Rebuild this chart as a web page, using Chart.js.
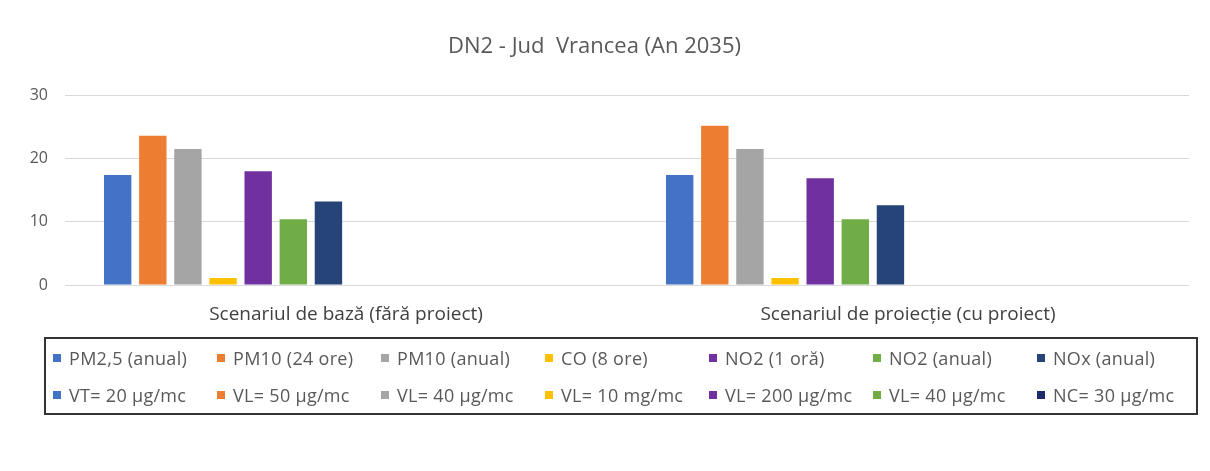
<!DOCTYPE html>
<html>
<head>
<meta charset="utf-8">
<script src="https://cdn.jsdelivr.net/npm/chart.js@4.4.1/dist/chart.umd.min.js"></script>
<style>
  body { margin: 0; background: #fff; }
  #wrap { position: relative; width: 1210px; height: 471px; }
  #legend {
    position: absolute; left: 44px; top: 337px; width: 1154px; height: 78px;
    border: 2px solid #333; box-sizing: border-box;
    display: grid; grid-template-columns: repeat(7, 164px); grid-auto-rows: 37px;
    padding: 0 0 0 7px;
    font-family: "Open Sans", sans-serif; font-size: 18px; letter-spacing: 0.3px; color: #595959;
  }
  #legend span { display: flex; align-items: center; white-space: nowrap; }
  #legend i { display: inline-block; width: 8px; height: 8px; margin-right: 8px; }
</style>
</head>
<body>
<div id="wrap">
  <canvas id="chart" width="1210" height="471"></canvas>
  <div id="legend"></div>
</div>
<script>
const titleText = 'DN2 - Jud  Vrancea (An 2035)';
const categories = ['Scenariul de bază (fără proiect)', 'Scenariul de proiecție (cu proiect)'];
const seriesNames = [
    'PM2,5 (anual)', 'PM10 (24 ore)', 'PM10 (anual)', 'CO (8 ore)', 'NO2 (1 oră)', 'NO2 (anual)', 'NOx (anual)',
    'VT= 20 µg/mc', 'VL= 50 µg/mc', 'VL= 40 µg/mc', 'VL= 10 mg/mc', 'VL= 200 µg/mc', 'VL= 40 µg/mc', 'NC= 30 µg/mc'
];
const seriesColors = [
    '#4472C4', '#ED7D31', '#A5A5A5', '#FFC000', '#7030A0', '#70AD47', '#264478',
    '#4472C4', '#ED7D31', '#A5A5A5', '#FFC000', '#7030A0', '#70AD47', '#1F2A6B'
];
// concentratii masurate, cate o valoare pe scenariu
const pm25Anual = [17.4, 17.4];
const pm10Ore = [23.6, 25.2];
const pm10Anual = [21.5, 21.5];
const co8Ore = [1.1, 1.1];
const no2Ora = [18.0, 16.9];
const no2Anual = [10.4, 10.4];
const noxAnual = [13.2, 12.6];
// valorile limita nu au bare desenate
const limitaGol = [null, null];
const yTicks = [0, 10, 20, 30];

const seriesData = [pm25Anual, pm10Ore, pm10Anual, co8Ore, no2Ora, no2Anual, noxAnual,
    limitaGol, limitaGol, limitaGol, limitaGol, limitaGol, limitaGol, limitaGol];

const datasets = seriesNames.map((name, i) => ({
    label: name,
    data: seriesData[i],
    backgroundColor: seriesColors[i],
    categoryPercentage: 0.875,
    barPercentage: 0.78
}));

// legenda in caseta, 7 coloane ca in Excel
const legend = document.getElementById('legend');
seriesNames.forEach((name, i) => {
    const item = document.createElement('span');
    item.innerHTML = `<i style="background:${seriesColors[i]}"></i>${name}`;
    legend.appendChild(item);
});

const ctx = document.getElementById('chart').getContext('2d');
new Chart(ctx, {
    type: 'bar',
    data: { labels: categories, datasets: datasets },
    options: {
        responsive: false,
        animation: false,
        layout: { padding: { left: 0, right: 21, top: 0, bottom: 146 } },
        plugins: {
            legend: { display: false },
            tooltip: { enabled: false },
            title: {
                display: true,
                text: titleText,
                color: '#595959',
                font: { family: 'Open Sans', size: 22, weight: 'normal' },
                padding: { top: 34, bottom: 35 }
            }
        },
        scales: {
            x: {
                grid: { display: false, drawTicks: false },
                border: { display: false },
                ticks: {
                    color: '#404040',
                    padding: 18,
                    font: { family: 'Open Sans', size: 19 }
                },
                afterFit: (scale) => { scale.height = 40; }
            },
            y: {
                min: 0,
                max: 30,
                afterBuildTicks: (scale) => { scale.ticks = yTicks.map(v => ({ value: v })); },
                grid: { color: '#D9D9D9', drawTicks: false },
                border: { display: false },
                ticks: {
                    color: '#595959',
                    padding: 17,
                    font: { family: 'Open Sans', size: 16 }
                },
                afterFit: (scale) => { scale.width = 65; }
            }
        }
    }
});
</script>
</body>
</html>
